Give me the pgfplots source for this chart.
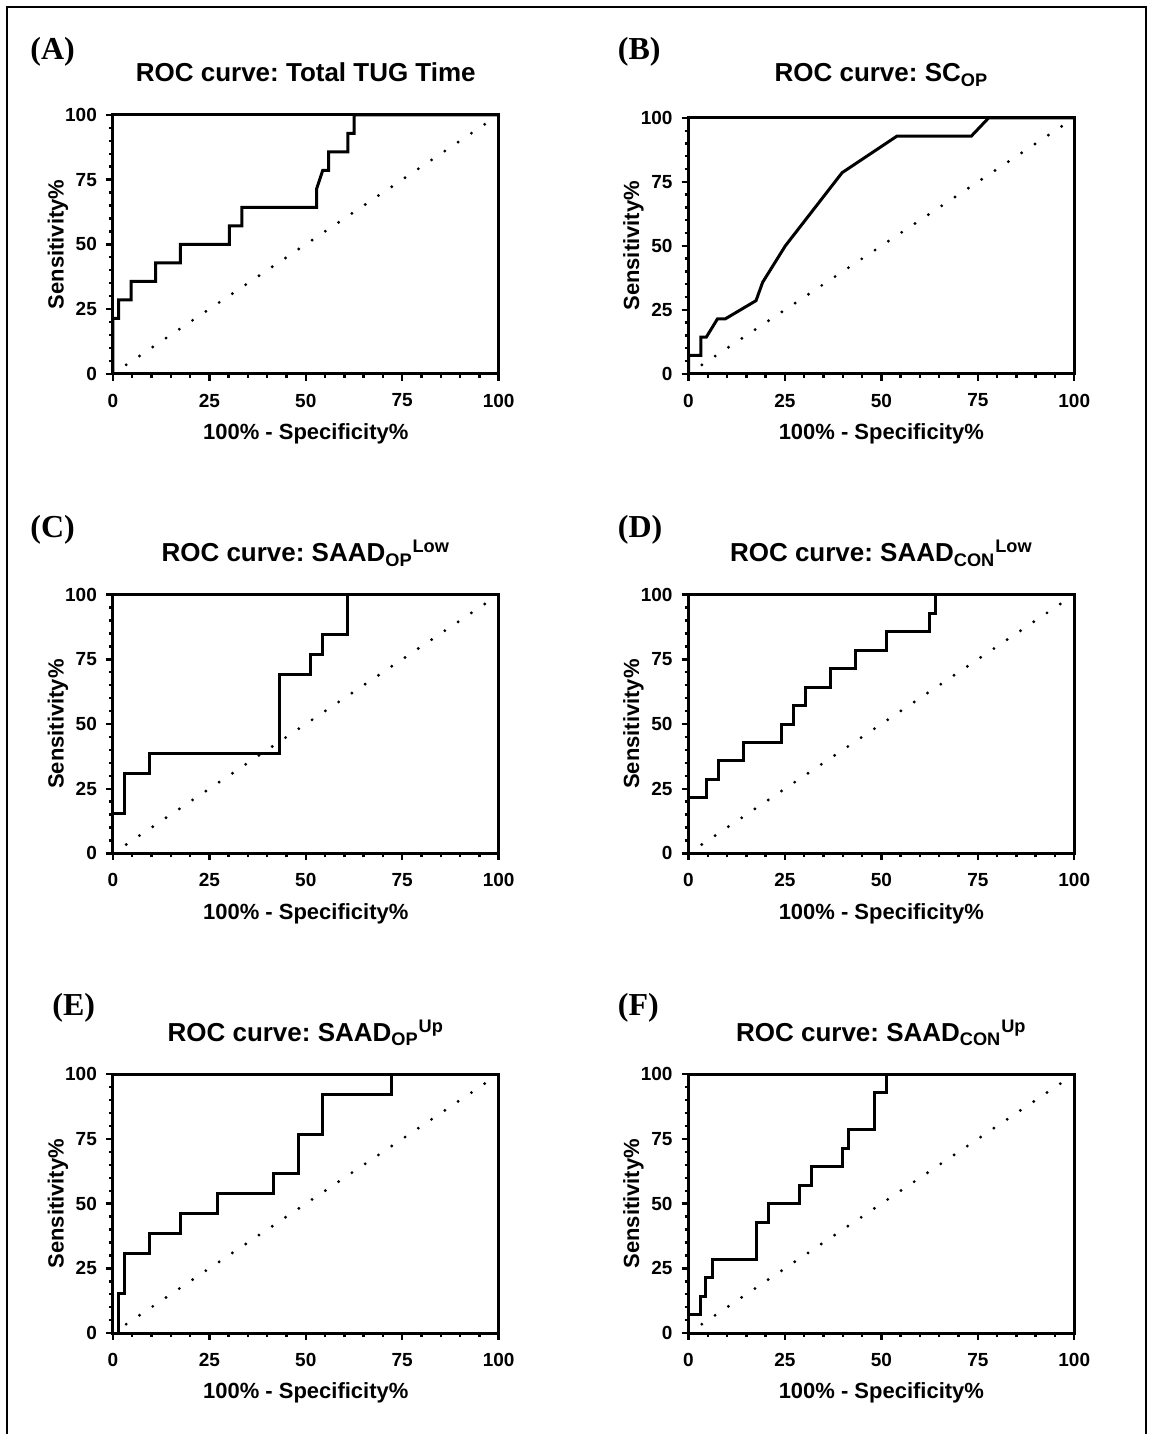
\documentclass[border=0pt]{standalone}
\usepackage{fontspec}
\setmainfont{Liberation Sans}
\newfontfamily\timesfont{Liberation Serif}
\usepackage{pgfplots}
\pgfplotsset{compat=1.18}
\frenchspacing
\pgfplotsset{
 rocaxis/.style={
  scale only axis, width=193pt, height=129.5pt,
  anchor=south west,
  xmin=0,xmax=100,ymin=0,ymax=100,
  xtick={0,25,50,75,100}, ytick={0,25,50,75,100},
  minor tick num=4,
  tick align=outside, xtick pos=bottom, ytick pos=left,
  major tick length=3.5pt, minor tick length=2pt,
  axis line style={line width=1.5pt},
  every tick/.style={black, line width=1.2pt},
  /pgf/number format/assume math mode=true,
  tick label style={font=\bfseries\fontsize{9.5}{10}\selectfont},
  xticklabel style={yshift=-3pt},
  yticklabel style={xshift=-1pt},
  xlabel={100\% - Specificity\%}, ylabel={Sensitivity\%},
  every axis x label/.style={at={(axis description cs:0.5,0)}, anchor=center, yshift=-30pt, font=\bfseries\fontsize{11}{12}\selectfont},
  every axis y label/.style={at={(axis description cs:0,0.5)}, anchor=center, xshift=-27.5pt, rotate=90, font=\bfseries\fontsize{11}{12}\selectfont},
  title style={font=\bfseries\fontsize{13}{14}\selectfont, at={(axis description cs:0.5,1)}, anchor=base, yshift=10.5pt},
  clip=false,
 },
 roc/.style={black, line width=1.5pt, line join=miter},
 diag/.style={black, line width=1.6pt, line cap=round, dash pattern=on 0pt off 8pt},
}
\begin{document}
\begin{tikzpicture}
\path (0,0) rectangle (577pt,-717.5pt);
\draw[line width=1pt] (3.5pt,-717.5pt) -- (3.5pt,-3.5pt) -- (573.5pt,-3.5pt) -- (573.5pt,-717.5pt);
% panel labels
\node[anchor=base west, inner sep=0, font=\timesfont\bfseries\fontsize{16}{18}\selectfont] at (15pt,-30pt) {(A)};
\node[anchor=base west, inner sep=0, font=\timesfont\bfseries\fontsize{16}{18}\selectfont] at (309pt,-30pt) {(B)};
\node[anchor=base west, inner sep=0, font=\timesfont\bfseries\fontsize{16}{18}\selectfont] at (15pt,-269pt) {(C)};
\node[anchor=base west, inner sep=0, font=\timesfont\bfseries\fontsize{16}{18}\selectfont] at (309pt,-269pt) {(D)};
\node[anchor=base west, inner sep=0, font=\timesfont\bfseries\fontsize{16}{18}\selectfont] at (26pt,-508pt) {(E)};
\node[anchor=base west, inner sep=0, font=\timesfont\bfseries\fontsize{16}{18}\selectfont] at (309pt,-508pt) {(F)};

% (A)
\begin{axis}[rocaxis, at={(56.5pt,-187pt)}, title={ROC curve: Total TUG Time}]
\addplot[diag] coordinates {(0,0) (100,100)};
\addplot[roc] coordinates {(0,0)(0,21.43)(1.5,21.43)(1.5,28.57)(4.7,28.57)(4.7,35.71)(11.1,35.71)(11.1,42.86)(17.5,42.86)(17.5,50)(30.2,50)(30.2,57.14)(33.4,57.14)(33.4,64.29)(52.8,64.29)(52.8,71.43)(54.4,78.57)(55.9,78.57)(55.9,85.71)(60.9,85.71)(60.9,92.86)(62.5,92.86)(62.5,100)(100,100)};
\end{axis}
% (B)
\begin{axis}[rocaxis, height=128pt, at={(344.5pt,-187pt)}, title={ROC curve: SC\textsubscript{OP}}, title style={yshift=1.5pt}]
\addplot[diag] coordinates {(0,0) (100,100)};
\addplot[roc] coordinates {(0,0)(0,7.14)(3.2,7.14)(3.2,14.29)(4.6,14.29)(7.5,21.43)(9.5,21.43)(17.5,28.57)(19.2,35.71)(25.1,50)(39.8,78.57)(54.0,92.86)(73.3,92.86)(77.8,100)(100,100)};
\end{axis}
% (C)
\begin{axis}[rocaxis, at={(56.5pt,-427pt)}, title={ROC curve: SAAD\textsubscript{OP}\textsuperscript{Low}}]
\addplot[diag] coordinates {(0,0) (100,100)};
\addplot[roc] coordinates {(0,0)(0,15.38)(3.0,15.38)(3.0,30.77)(9.5,30.77)(9.5,38.46)(43.2,38.46)(43.2,69.23)(51.2,69.23)(51.2,76.92)(54.4,76.92)(54.4,84.62)(60.9,84.62)(60.9,100)(100,100)};
\end{axis}
% (D)
\begin{axis}[rocaxis, at={(344.5pt,-427pt)}, title={ROC curve: SAAD\textsubscript{CON}\textsuperscript{Low}}]
\addplot[diag] coordinates {(0,0) (100,100)};
\addplot[roc] coordinates {(0,0)(0,21.43)(4.7,21.43)(4.7,28.57)(7.8,28.57)(7.8,35.71)(14.3,35.71)(14.3,42.86)(24.0,42.86)(24.0,50)(27.2,50)(27.2,57.14)(30.3,57.14)(30.3,64.29)(36.8,64.29)(36.8,71.43)(43.2,71.43)(43.2,78.57)(51.3,78.57)(51.3,85.71)(62.6,85.71)(62.6,92.86)(64.1,92.86)(64.1,100)(100,100)};
\end{axis}
% (E)
\begin{axis}[rocaxis, at={(56.5pt,-667pt)}, title={ROC curve: SAAD\textsubscript{OP}\textsuperscript{Up}}]
\addplot[diag] coordinates {(0,0) (100,100)};
\addplot[roc] coordinates {(0,0)(1.5,0)(1.5,15.38)(3.0,15.38)(3.0,30.77)(9.5,30.77)(9.5,38.46)(17.5,38.46)(17.5,46.15)(27.2,46.15)(27.2,53.85)(41.7,53.85)(41.7,61.54)(48.0,61.54)(48.0,76.92)(54.4,76.92)(54.4,92.31)(72.2,92.31)(72.2,100)(100,100)};
\end{axis}
% (F)
\begin{axis}[rocaxis, at={(344.5pt,-667pt)}, title={ROC curve: SAAD\textsubscript{CON}\textsuperscript{Up}}]
\addplot[diag] coordinates {(0,0) (100,100)};
\addplot[roc] coordinates {(0,0)(0,7.14)(3.0,7.14)(3.0,14.29)(4.5,14.29)(4.5,21.43)(6.2,21.43)(6.2,28.57)(17.5,28.57)(17.5,42.86)(20.8,42.86)(20.8,50)(28.8,50)(28.8,57.14)(32.0,57.14)(32.0,64.29)(40.0,64.29)(40.0,71.43)(41.5,71.43)(41.5,78.57)(48.1,78.57)(48.1,92.86)(51.3,92.86)(51.3,100)(100,100)};
\end{axis}
\end{tikzpicture}
\end{document}
